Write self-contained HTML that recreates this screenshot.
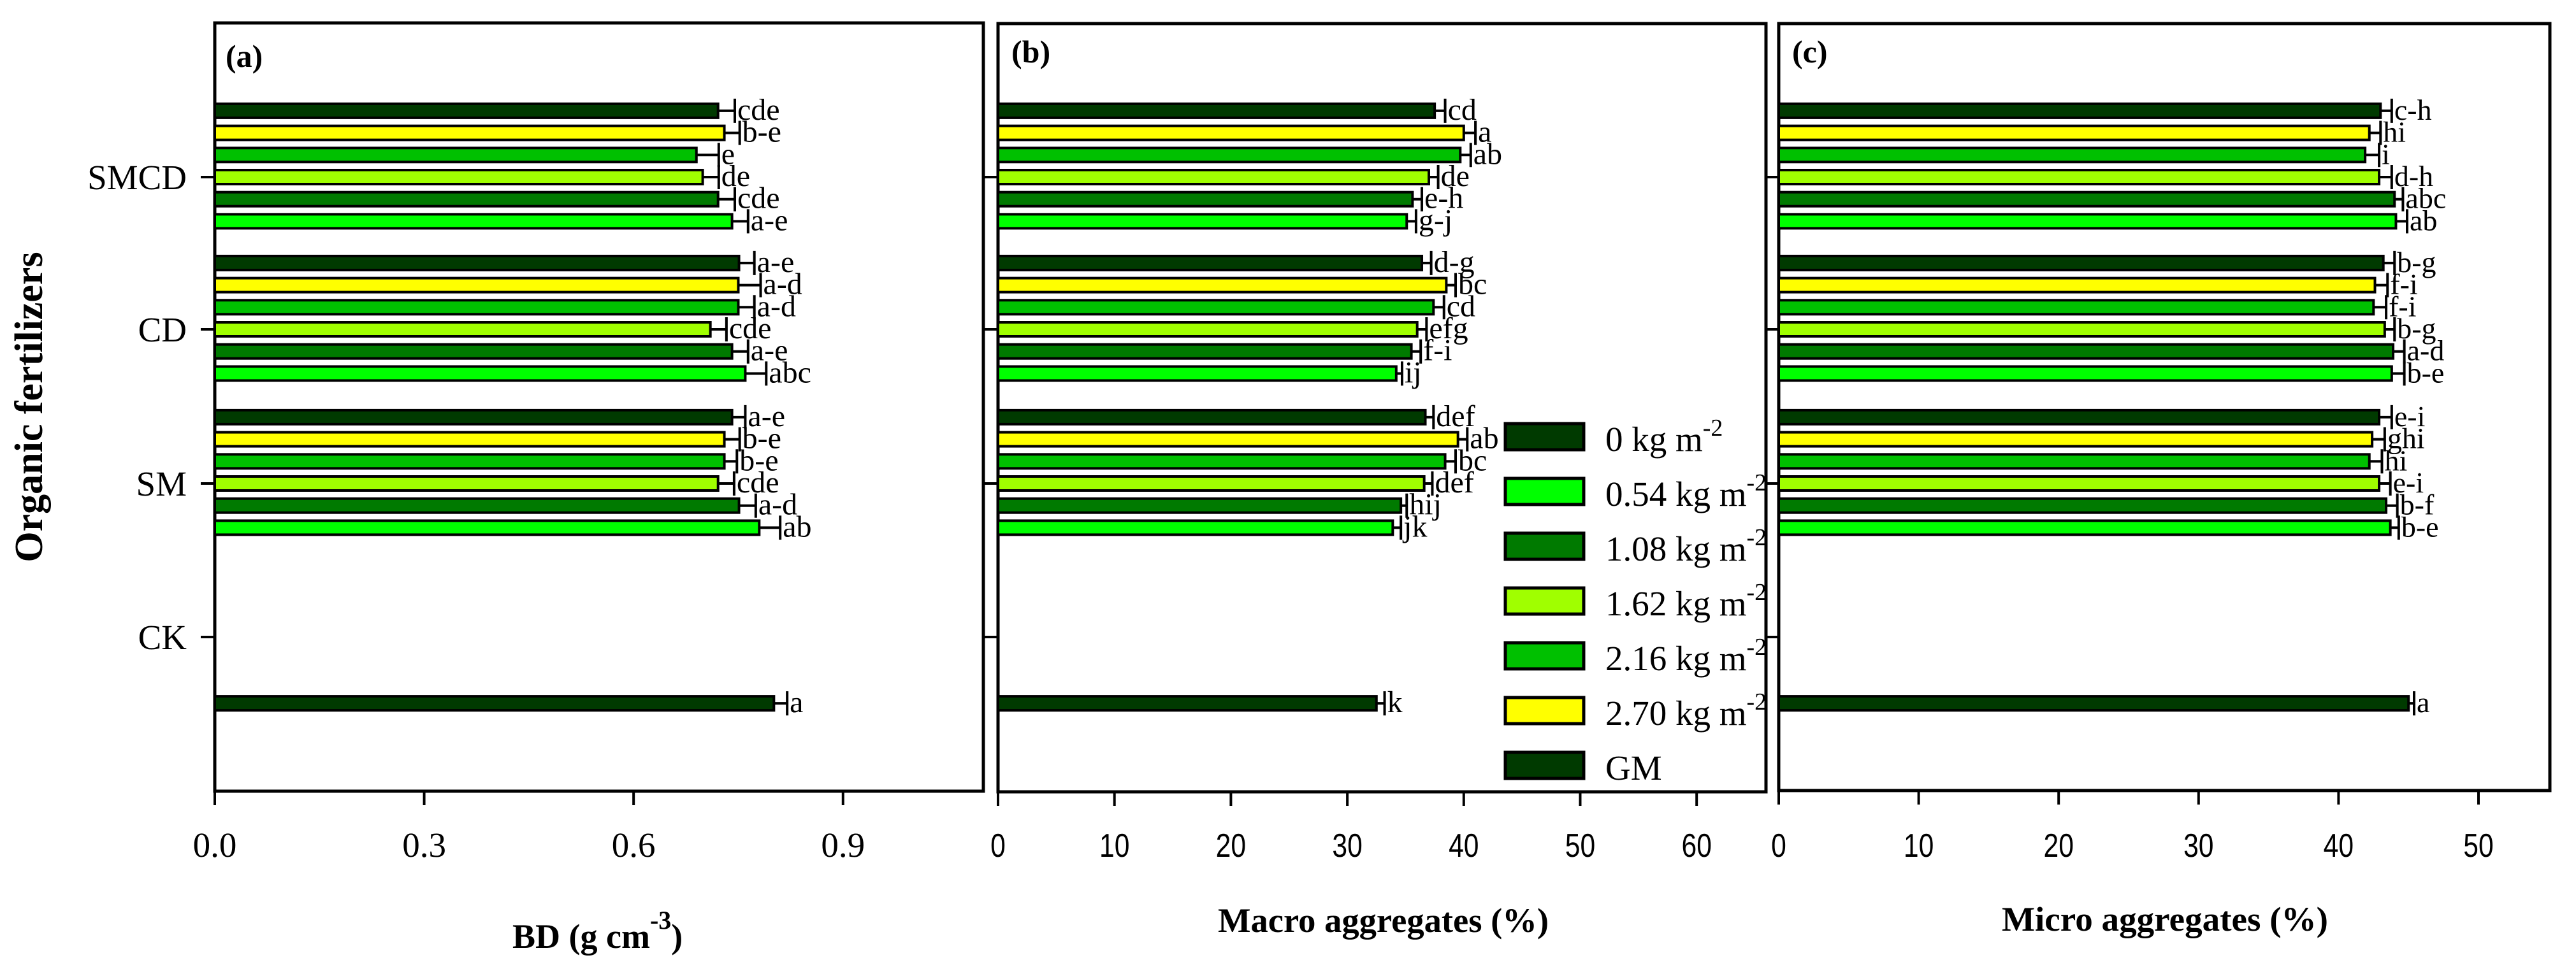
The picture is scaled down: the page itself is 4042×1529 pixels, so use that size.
<!DOCTYPE html>
<html><head><meta charset="utf-8">
<style>
html,body{margin:0;padding:0;background:#fff;}
svg{display:block;}
text{font-family:"Liberation Serif",serif;fill:#000;}
.sans{font-family:"Liberation Sans",sans-serif;}
</style></head>
<body>
<svg id="chart" xmlns="http://www.w3.org/2000/svg" width="4042" height="1529" viewBox="0 0 4042 1529">
<text x="0" y="0" font-size="62" font-weight="bold" text-anchor="middle" transform="translate(66,639) rotate(-90)">Organic fertilizers</text>
<text x="804" y="1488" font-size="54" font-weight="bold">BD (g cm<tspan dy="-30" font-size="40">-3</tspan><tspan dy="30">)</tspan></text>
<text x="1911" y="1463" font-size="54" font-weight="bold" textLength="519" lengthAdjust="spacingAndGlyphs">Macro aggregates (%)</text>
<text x="3141" y="1461" font-size="54" font-weight="bold" textLength="512" lengthAdjust="spacingAndGlyphs">Micro aggregates (%)</text>
<g id="panels"></g>
<g id="legend"></g>
</svg>
<script>
const categories = ['SMCD','CD','SM','CK'];
const seriesNames = ['GM','2.70 kg m-2','2.16 kg m-2','1.62 kg m-2','1.08 kg m-2','0.54 kg m-2','0 kg m-2'];
const seriesColors = ['#003a00','#ffff00','#00c000','#a0ff00','#007a00','#00ff00','#003a00'];

// Panel (a) BD values [SMCD, CD, SM, CK]
const bdGM   = [0.721,0.751,0.741,null];
const bd270  = [0.730,0.750,0.730,null];
const bd216  = [0.690,0.750,0.730,null];
const bd162  = [0.699,0.710,0.721,null];
const bd108  = [0.721,0.741,0.751,null];
const bd054  = [0.741,0.760,0.780,null];
const bd0    = [null,null,null,0.801];
const bdErrGM=[0.024,0.022,0.019,null], bdErr270=[0.022,0.032,0.022,null], bdErr216=[0.032,0.023,0.018,null];
const bdErr162=[0.023,0.023,0.023,null], bdErr108=[0.024,0.023,0.024,null], bdErr054=[0.023,0.030,0.030,null], bdErr0=[null,null,null,0.019];
const bdLetGM=['cde','a-e','a-e',''], bdLet270=['b-e','a-d','b-e',''], bdLet216=['e','a-d','b-e',''];
const bdLet162=['de','cde','cde',''], bdLet108=['cde','a-e','a-d',''], bdLet054=['a-e','abc','ab',''], bdLet0=['','','','a'];
const bdTicks = [0,0.3,0.6,0.9];
const bdTickLabels = ['0.0','0.3','0.6','0.9'];

// Panel (b) Macro aggregates
const maGM  = [37.5,36.4,36.7,null];
const ma270 = [40.0,38.5,39.5,null];
const ma216 = [39.7,37.4,38.4,null];
const ma162 = [37.0,36.0,36.6,null];
const ma108 = [35.6,35.5,34.6,null];
const ma054 = [35.1,34.2,33.9,null];
const ma0   = [null,null,null,32.5];
const maErrGM=[0.9,0.8,0.7,null], maErr270=[1.0,0.8,0.8,null], maErr216=[0.9,0.9,0.9,null];
const maErr162=[0.8,0.8,0.7,null], maErr108=[0.8,0.8,0.5,null], maErr054=[0.8,0.5,0.7,null], maErr0=[null,null,null,0.7];
const maLetGM=['cd','d-g','def',''], maLet270=['a','bc','ab',''], maLet216=['ab','cd','bc',''];
const maLet162=['de','efg','def',''], maLet108=['e-h','f-i','hij',''], maLet054=['g-j','ij','jk',''], maLet0=['','','','k'];
const maTicks = [0,10,20,30,40,50,60];
const maTickLabels = ['0','10','20','30','40','50','60'];

// Panel (c) Micro aggregates
const miGM  = [43.0,43.2,42.9,null];
const mi270 = [42.2,42.6,42.4,null];
const mi216 = [41.9,42.5,42.2,null];
const mi162 = [42.9,43.3,42.9,null];
const mi108 = [44.0,43.9,43.4,null];
const mi054 = [44.1,43.8,43.7,null];
const mi0   = [null,null,null,45.0];
const miErrGM=[0.8,0.8,0.9,null], miErr270=[0.8,0.9,0.9,null], miErr216=[1.0,0.9,0.9,null];
const miErr162=[0.9,0.7,0.8,null], miErr108=[0.6,0.8,0.8,null], miErr054=[0.8,0.9,0.6,null], miErr0=[null,null,null,0.4];
const miLetGM=['c-h','b-g','e-i',''], miLet270=['hi','f-i','ghi',''], miLet216=['i','f-i','hi',''];
const miLet162=['d-h','b-g','e-i',''], miLet108=['abc','a-d','b-f',''], miLet054=['ab','b-e','b-e',''], miLet0=['','','','a'];
const miTicks = [0,10,20,30,40,50];
const miTickLabels = ['0','10','20','30','40','50'];

const NS='http://www.w3.org/2000/svg';
function mk(tag, attrs, parent){const e=document.createElementNS(NS,tag);for(const k in attrs)e.setAttribute(k,attrs[k]);parent.appendChild(e);return e;}

const catTicksY=[278,517,759,1000];
const slot=34.7, barH=22;
function yScale(ci, si){return catTicksY[ci]+(si-3)*slot;}

const panels=[
 {id:'a',left:337,right:1543,top:36,bottom:1242,unit:1095.3,ticks:bdTicks,tl:bdTickLabels,sans:false,
  vals:[bdGM,bd270,bd216,bd162,bd108,bd054,bd0],errs:[bdErrGM,bdErr270,bdErr216,bdErr162,bdErr108,bdErr054,bdErr0],
  lets:[bdLetGM,bdLet270,bdLet216,bdLet162,bdLet108,bdLet054,bdLet0],catLabels:true},
 {id:'b',left:1566,right:2771,top:37,bottom:1243,unit:18.27,ticks:maTicks,tl:maTickLabels,sans:true,
  vals:[maGM,ma270,ma216,ma162,ma108,ma054,ma0],errs:[maErrGM,maErr270,maErr216,maErr162,maErr108,maErr054,maErr0],
  lets:[maLetGM,maLet270,maLet216,maLet162,maLet108,maLet054,maLet0],catLabels:false},
 {id:'c',left:2791,right:4001,top:37,bottom:1241,unit:21.96,ticks:miTicks,tl:miTickLabels,sans:true,
  vals:[miGM,mi270,mi216,mi162,mi108,mi054,mi0],errs:[miErrGM,miErr270,miErr216,miErr162,miErr108,miErr054,miErr0],
  lets:[miLetGM,miLet270,miLet216,miLet162,miLet108,miLet054,miLet0],catLabels:false}
];
const root=document.getElementById('panels');
panels.forEach(p=>{
  const g=mk('g',{},root);
  
  
  const xs=v=>p.left+v*p.unit;
  const frame=mk('rect',{x:p.left,y:p.top,width:p.right-p.left,height:p.bottom-p.top,fill:'none',stroke:'#000','stroke-width':5},g);
  
  
  const lab=mk('text',{x:p.left+(p.id==='a'?17:21),y:p.id==='a'?105:98,'font-size':50,'font-weight':'bold'},g);
  lab.textContent='('+p.id+')';
  
  
  p.ticks.forEach((t,i)=>{
    const x=xs(t);
    const tk=mk('line',{x1:x,x2:x,y1:p.bottom,y2:p.bottom+22,stroke:'#000','stroke-width':4},g);
    
    
    const tx=mk('text',{x:x,y:1345,'font-size':p.sans?52:55,'text-anchor':'middle'},g);
    if(p.sans){tx.setAttribute('class','sans');tx.setAttribute('transform','translate('+x+',0) scale(0.82,1) translate('+(-x)+',0)');}
    tx.textContent=p.tl[i];
    
    
  });
  categories.forEach((c,ci)=>{
    const y=catTicksY[ci];
    const tk=mk('line',{x1:p.left-22,x2:p.left,y1:y,y2:y,stroke:'#000','stroke-width':4},g);
    
    
    if(p.catLabels){
      const tx=mk('text',{x:293,y:y+19,'font-size':55,'text-anchor':'end'},g);
      tx.textContent=c;
      
      
    }
  });
  p.vals.forEach((arr,si)=>{
    arr.forEach((v,ci)=>{
      if(v==null) return;
      const yc=yScale(ci,si);
      const x1=xs(v);
      const bar=mk('rect',{x:p.left,y:yc-barH/2,width:x1-p.left,height:barH,fill:seriesColors[si],stroke:'#000','stroke-width':4},g);
      
      
      const e=p.errs[si][ci];
      const x2=xs(v+e);
      const eb=mk('path',{d:'M'+x1+' '+yc+'H'+x2+'M'+x2+' '+(yc-19)+'V'+(yc+19),stroke:'#000','stroke-width':4,fill:'none'},g);
      
      
      const lt=mk('text',{x:x2+4,y:yc+14,'font-size':p.id==='c'?46:48},g);
      lt.textContent=p.lets[si][ci];
      
      
    });
  });
});
// legend
const lg=document.getElementById('legend');
const legendOrder=[6,5,4,3,2,1,0];
const legendLabels=['0','0.54','1.08','1.62','2.16','2.70','GM'];
legendOrder.forEach((si,i)=>{
  const top=665+i*86;
  const r=mk('rect',{x:2362,y:top,width:123,height:41,fill:seriesColors[si],stroke:'#000','stroke-width':5},lg);
  
  
  const t=mk('text',{x:2519,y:top+43,'font-size':55},lg);
  
  
  if(legendLabels[i]==='GM'){t.textContent='GM';}
  else{
    t.appendChild(document.createTextNode(legendLabels[i]+' kg m'));
    const s=mk('tspan',{dy:-24,'font-size':38},t); s.textContent='-2';
  }
});
</script>
</body></html>
